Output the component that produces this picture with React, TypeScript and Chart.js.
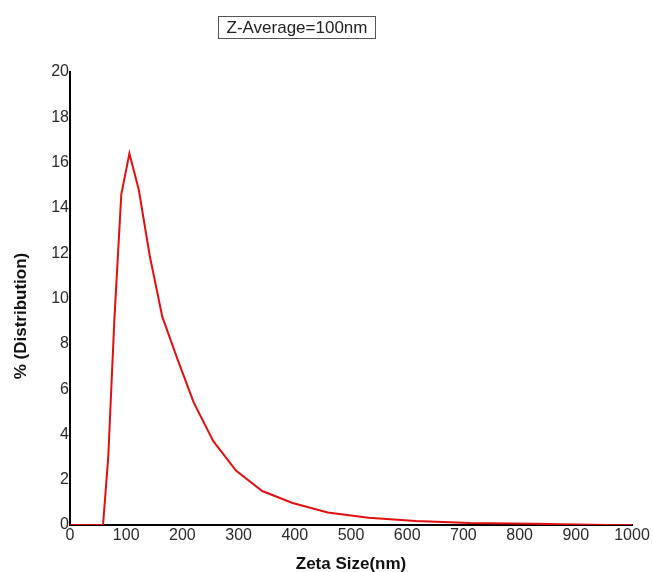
import React, { useEffect, useRef } from "react";
import { Chart, registerables } from "chart.js";

Chart.register(...registerables);

// Zeta size bins (nm) and % distribution
const sizes = [0, 58.77, 68.06, 78.82, 91.28, 105.7, 122.4, 141.8, 164.2, 190.1, 220.2, 255.0, 295.3, 342.0, 396.1, 458.7, 531.2, 615.1, 712.4, 825.0, 955.4, 1000];
const distribution = [0, 0, 3.0, 9.0, 14.6, 16.4, 14.8, 11.9, 9.2, 7.4, 5.4, 3.7, 2.4, 1.5, 0.97, 0.55, 0.32, 0.18, 0.09, 0.05, 0, 0];

const titleText = "Z-Average=100nm";
const xTitle = "Zeta Size(nm)";
const yTitle = "% (Distribution)";
const xMin = 0, xMax = 1000, xStep = 100;
const yMin = 0, yMax = 20, yStep = 2;

const FONT = "'Liberation Sans', Arial, Helvetica, sans-serif";

const textPlugin = {
  id: "textPlugin",
  afterDraw(chart: any) {
    const ctx = chart.ctx;
    ctx.save();
    // boxed title
    ctx.strokeStyle = "#555";
    ctx.lineWidth = 1;
    ctx.strokeRect(218.5, 16.5, 157, 22);
    ctx.fillStyle = "#222";
    ctx.font = `17px ${FONT}`;
    ctx.textAlign = "center";
    ctx.textBaseline = "middle";
    ctx.fillText(titleText, 297, 28);
    // axis titles
    ctx.font = `bold 17px ${FONT}`;
    ctx.fillStyle = "#111";
    ctx.fillText(xTitle, 351, 564);
    ctx.translate(21, 316);
    ctx.rotate(-Math.PI / 2);
    ctx.fillText(yTitle, 0, 0);
    ctx.restore();
  },
};

export default function App() {
  const ref = useRef<HTMLCanvasElement | null>(null);
  useEffect(() => {
    if (!ref.current) return;
    const chart = new Chart(ref.current, {
      type: "line",
      data: {
        datasets: [
          {
            data: sizes.map((s, i) => ({ x: s, y: distribution[i] })),
            borderColor: "rgb(225,15,15)",
            borderWidth: 2,
            pointRadius: 0,
            tension: 0,
            fill: false,
          },
        ],
      },
      options: {
        animation: false,
        responsive: false,
        layout: { padding: { left: 0, top: 72, right: 21, bottom: 0 } },
        plugins: { legend: { display: false }, tooltip: { enabled: false }, title: { display: false } },
        scales: {
          x: {
            type: "linear",
            min: xMin,
            max: xMax,
            grid: { display: false, drawTicks: false },
            border: { display: true, color: "#000", width: 2 },
            ticks: {
              stepSize: xStep,
              color: "#2a2a2a",
              font: { size: 16, family: FONT },
              padding: 1,
              maxRotation: 0,
              callback: (v: any) => String(v),
            },
            afterFit: (s: any) => { s.height = 47; },
          },
          y: {
            type: "linear",
            min: yMin,
            max: yMax,
            grid: { display: false, drawTicks: false },
            border: { display: true, color: "#000", width: 2 },
            ticks: { stepSize: yStep, color: "#2a2a2a", font: { size: 16, family: FONT }, padding: 1, callback: (v: any) => String(v) },
            afterFit: (s: any) => { s.width = 70; },
          },
        },
      },
      plugins: [textPlugin],
    });
    return () => chart.destroy();
  }, []);
  return (
    <div style={{ position: "fixed", left: 0, top: 0, width: 653, height: 572, background: "#fff" }}>
      <canvas ref={ref} width={653} height={572} style={{ display: "block" }} />
    </div>
  );
}
